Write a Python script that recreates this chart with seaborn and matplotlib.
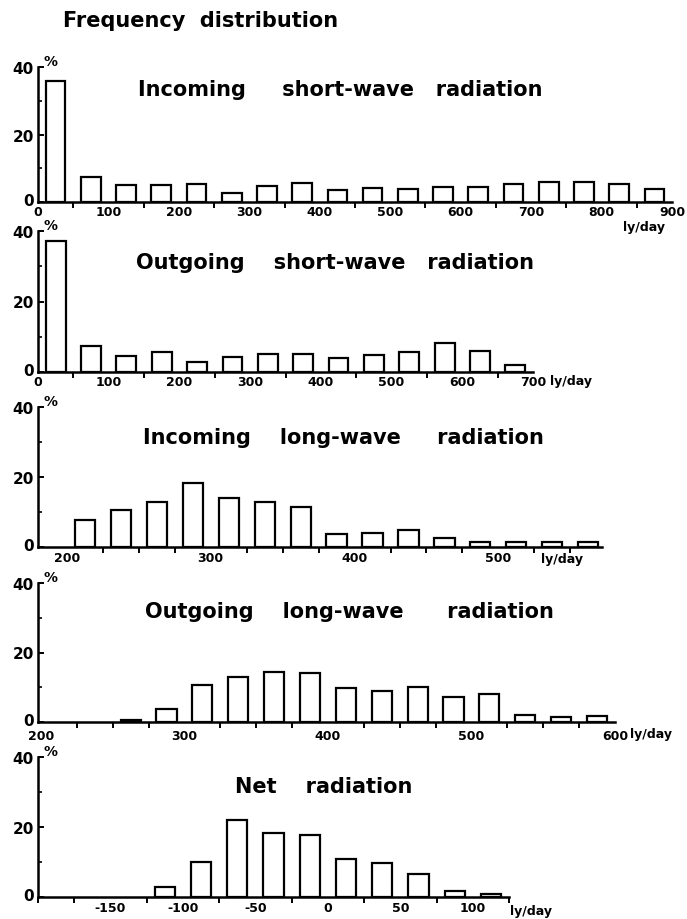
import numpy as np
import pandas as pd
import matplotlib
matplotlib.use("Agg")
import matplotlib.pyplot as plt
from matplotlib.ticker import MultipleLocator
from matplotlib.transforms import ScaledTranslation
import seaborn as sns

sns.set_style("ticks")
plt.rcParams["font.family"] = ["DejaVu Sans"]
plt.rcParams["text.color"] = "black"
plt.rcParams["xtick.color"] = "black"
plt.rcParams["ytick.color"] = "black"
plt.rcParams["axes.labelcolor"] = "black"

# ---- data: frequency (%) per class of daily radiation total (ly/day) ----
isw_bins = np.arange(25, 900, 50)          # class centres, 50 ly/day classes
isw_pct = [35.8, 7.5, 5.0, 5.0, 5.2, 2.8, 4.7, 5.5, 3.6,
           4.2, 3.9, 4.4, 4.4, 5.4, 5.8, 5.8, 5.4, 3.9]

osw_bins = np.arange(25, 700, 50)
osw_pct = [37.2, 7.4, 4.6, 5.6, 2.8, 4.3, 5.0, 5.0, 4.0, 4.8, 5.8, 8.3, 5.9, 2.0]

ilw_bins = np.arange(212.5, 575, 25)       # 25 ly/day classes
ilw_pct = [7.8, 10.6, 12.9, 18.2, 14.0, 12.9, 11.3, 3.8, 4.0, 4.9,
           2.6, 1.3, 1.4, 1.4, 1.4]

olw_bins = np.arange(262.5, 600, 25)
olw_pct = [0.5, 3.6, 10.6, 13.0, 14.4, 14.0, 9.9, 8.8, 10.2, 7.2,
           8.2, 2.0, 1.3, 1.6]

net_bins = np.arange(-112.5, 125, 25)
net_pct = [3.0, 10.1, 21.9, 18.3, 17.7, 10.9, 9.6, 6.6, 1.6, 0.8]

isw_ticks = [0, 100, 200, 300, 400, 500, 600, 700, 800, 900]
osw_ticks = [0, 100, 200, 300, 400, 500, 600, 700]
ilw_ticks = [200, 300, 400, 500]
olw_ticks = [200, 300, 400, 500, 600]
net_ticks = [-150, -100, -50, 0, 50, 100]

W, H = 687, 920
fig = plt.figure(figsize=(W / 100, H / 100), dpi=100)


def fx(x):
    return x / W


def fy(y):
    return 1 - y / H


panels = [
    dict(bins=isw_bins, pct=isw_pct, step=50, xlim=(0, 900), ticks=isw_ticks,
         box=(38, 68, 672, 203), xpad=2,
         title="Incoming     short-wave   radiation", tpos=(138, 90),
         unit_pos=(623, 228)),
    dict(bins=osw_bins, pct=osw_pct, step=50, xlim=(0, 700), ticks=osw_ticks,
         box=(38, 232, 533, 373), xpad=2,
         title="Outgoing    short-wave   radiation", tpos=(136, 263),
         unit_pos=(550, 382)),
    dict(bins=ilw_bins, pct=ilw_pct, step=25, xlim=(180, 572), ticks=ilw_ticks,
         box=(38, 408, 602, 548), xpad=3,
         title="Incoming    long-wave     radiation", tpos=(143, 438),
         unit_pos=(541, 560)),
    dict(bins=olw_bins, pct=olw_pct, step=25, xlim=(198, 600), ticks=olw_ticks,
         box=(38, 584, 615, 723), xpad=5,
         title="Outgoing    long-wave      radiation", tpos=(145, 612),
         unit_pos=(630, 735)),
    dict(bins=net_bins, pct=net_pct, step=25, xlim=(-200, 125), ticks=net_ticks,
         box=(38, 758, 509, 898), xpad=3,
         title="Net    radiation", tpos=(235, 787),
         unit_pos=(510, 912)),
]

# lift the "0" label on the percent axis a little off the baseline
lift = ScaledTranslation(0, 2.5 / 72, fig.dpi_scale_trans)

for p in panels:
    l, t, r, b = p["box"]
    ax = fig.add_axes([fx(l), fy(b), fx(r) - fx(l), fy(t) - fy(b)])
    df = pd.DataFrame({"x": p["bins"], "pct": p["pct"]})
    sns.barplot(data=df, x="x", y="pct", native_scale=True, width=0.56,
                color="white", edgecolor="black", linewidth=1.6,
                errorbar=None, ax=ax)
    ax.set_xlim(*p["xlim"])
    ax.set_ylim(0, 40)
    ax.set_xlabel("")
    ax.set_ylabel("")
    ax.patch.set_alpha(0)
    for side in ("top", "right"):
        ax.spines[side].set_visible(False)
    for side in ("left", "bottom"):
        ax.spines[side].set_linewidth(1.8)
        ax.spines[side].set_color("black")

    ax.set_xticks(p["ticks"])
    ax.set_xticklabels([str(v) for v in p["ticks"]], fontsize=9,
                       fontweight="bold")
    ax.xaxis.set_minor_locator(MultipleLocator(p["step"]))
    ax.tick_params(axis="x", which="major", length=0, pad=p["xpad"])
    ax.tick_params(axis="x", which="minor", length=4, width=1.4,
                   direction="out")

    ax.set_yticks([0, 20, 40])
    ax.set_yticklabels(["0", "20", "40"], fontsize=11, fontweight="bold")
    ax.yaxis.set_minor_locator(MultipleLocator(10))
    ax.tick_params(axis="y", which="major", length=4, width=1.4,
                   direction="in", pad=3)
    ax.tick_params(axis="y", which="minor", length=3, width=1.2,
                   direction="in")
    zero_label = ax.get_yticklabels()[0]
    zero_label.set_transform(zero_label.get_transform() + lift)

    fig.text(fx(l + 5), fy(t - 6), "%", fontsize=10, fontweight="bold",
             ha="left", va="center")
    fig.text(fx(p["tpos"][0]), fy(p["tpos"][1]), p["title"], fontsize=15,
             fontweight="bold", ha="left", va="center")
    fig.text(fx(p["unit_pos"][0]), fy(p["unit_pos"][1]), "ly/day",
             fontsize=9, fontweight="bold", ha="left", va="center")

fig.text(fx(63), fy(21), "Frequency  distribution", fontsize=15,
         fontweight="bold", ha="left", va="center")

fig.savefig("out.png", dpi=100)
